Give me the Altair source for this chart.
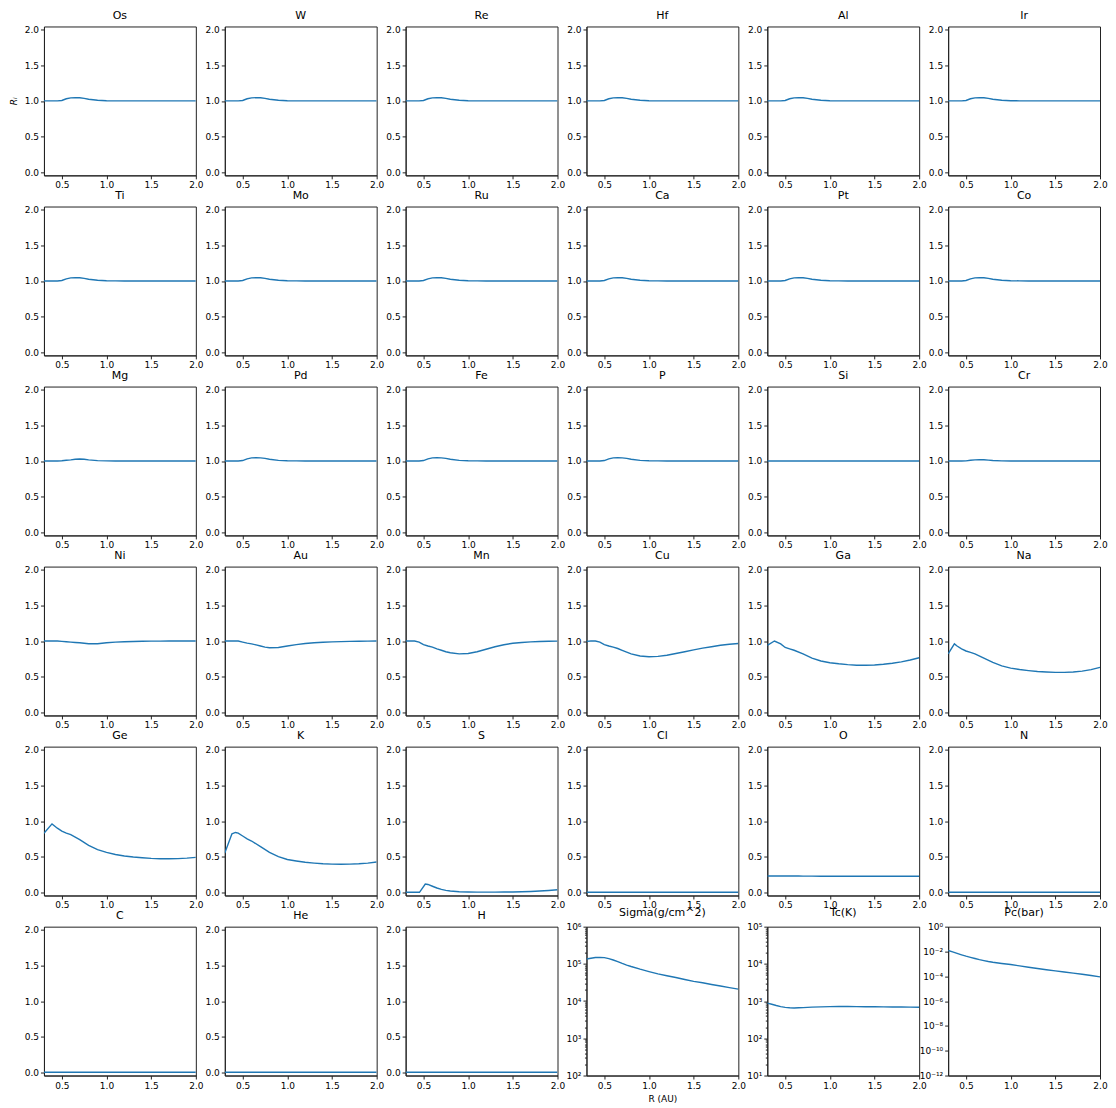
import altair as alt
import pandas as pd

# ---------------- data ----------------
R = [0.30, 0.35, 0.40, 0.45, 0.50, 0.55, 0.60, 0.65, 0.70, 0.75, 0.80, 0.90,
     1.00, 1.10, 1.20, 1.30, 1.40, 1.50, 1.60, 1.70, 1.80, 1.90, 2.00]

BUMP = [1.0, 1.0, 1.0, 1.0, 1.006, 1.03, 1.043, 1.046, 1.044, 1.036, 1.024, 1.009,
        1.003, 1.001, 1.0, 1.0, 1.0, 1.0, 1.0, 1.0, 1.0, 1.0, 1.0]
MG = [1.0, 1.0, 1.0, 1.0, 1.004, 1.01, 1.015, 1.024, 1.028, 1.024, 1.015, 1.005,
      1.001, 1.0, 1.0, 1.0, 1.0, 1.0, 1.0, 1.0, 1.0, 1.0, 1.0]
SI = [1.0, 1.0, 1.0, 1.0, 1.0, 1.0, 1.0, 1.0, 1.0, 1.0, 1.0, 1.0,
      1.0, 1.0, 1.0, 1.0, 1.0, 1.0, 1.0, 1.0, 1.0, 1.0, 1.0]
CR = [1.0, 1.0, 1.0, 1.0, 1.002, 1.01, 1.016, 1.019, 1.017, 1.012, 1.007, 1.002,
      1.0, 1.0, 1.0, 1.0, 1.0, 1.0, 1.0, 1.0, 1.0, 1.0, 1.0]
NI = [1.0, 1.0, 1.0, 1.0, 0.995, 0.99, 0.985, 0.98, 0.975, 0.968, 0.962, 0.962,
      0.975, 0.985, 0.99, 0.994, 0.997, 0.998, 0.999, 1.0, 1.0, 1.0, 1.0]
AU = [1.0, 1.0, 1.0, 1.0, 0.985, 0.97, 0.96, 0.945, 0.93, 0.915, 0.905, 0.91,
      0.93, 0.95, 0.965, 0.975, 0.983, 0.988, 0.992, 0.995, 0.997, 0.999, 1.0]
MN = [1.0, 1.0, 1.0, 0.985, 0.95, 0.93, 0.915, 0.89, 0.87, 0.85, 0.835, 0.82,
      0.825, 0.85, 0.885, 0.92, 0.948, 0.968, 0.98, 0.988, 0.993, 0.996, 0.998]
CU = [0.995, 1.0, 1.0, 0.985, 0.95, 0.93, 0.915, 0.895, 0.87, 0.845, 0.82, 0.79,
      0.78, 0.785, 0.80, 0.825, 0.85, 0.875, 0.90, 0.92, 0.94, 0.955, 0.965]
O = [0.228, 0.228, 0.228, 0.228, 0.228, 0.228, 0.228, 0.228, 0.227, 0.227, 0.227, 0.226,
     0.226, 0.226, 0.225, 0.225, 0.225, 0.225, 0.225, 0.225, 0.225, 0.225, 0.225]
ZERO = [0.0, 0.0, 0.0, 0.0, 0.0, 0.0, 0.0, 0.0, 0.0, 0.0, 0.0, 0.0,
        0.0, 0.0, 0.0, 0.0, 0.0, 0.0, 0.0, 0.0, 0.0, 0.0, 0.0]

GA_R = [0.30, 0.38, 0.45, 0.50, 0.55, 0.60, 0.70, 0.80, 0.90, 1.00, 1.10, 1.20,
        1.30, 1.40, 1.50, 1.60, 1.70, 1.80, 1.90, 2.00]
GA = [0.94, 1.0, 0.96, 0.91, 0.89, 0.87, 0.82, 0.76, 0.72, 0.695, 0.68, 0.668,
      0.66, 0.66, 0.663, 0.673, 0.688, 0.708, 0.733, 0.765]
NA_R = [0.30, 0.37, 0.40, 0.45, 0.50, 0.55, 0.60, 0.70, 0.80, 0.90, 1.00, 1.10,
        1.20, 1.30, 1.40, 1.50, 1.60, 1.70, 1.80, 1.90, 2.00]
NA = [0.82, 0.96, 0.93, 0.89, 0.86, 0.84, 0.82, 0.76, 0.70, 0.65, 0.62, 0.60,
      0.585, 0.572, 0.565, 0.56, 0.56, 0.565, 0.578, 0.598, 0.63]
GE_R = [0.30, 0.39, 0.45, 0.50, 0.55, 0.60, 0.70, 0.80, 0.90, 1.00, 1.10, 1.20,
        1.30, 1.40, 1.50, 1.60, 1.70, 1.80, 1.90, 2.00]
GE = [0.83, 0.96, 0.90, 0.86, 0.83, 0.81, 0.74, 0.66, 0.60, 0.56, 0.53, 0.51,
      0.495, 0.485, 0.476, 0.47, 0.47, 0.472, 0.479, 0.49]
K_R = [0.30, 0.38, 0.42, 0.45, 0.50, 0.55, 0.60, 0.70, 0.80, 0.90, 1.00, 1.10,
       1.20, 1.30, 1.40, 1.50, 1.60, 1.70, 1.80, 1.90, 2.00]
K = [0.55, 0.82, 0.84, 0.83, 0.79, 0.75, 0.72, 0.64, 0.56, 0.50, 0.46, 0.44,
     0.422, 0.41, 0.40, 0.395, 0.393, 0.395, 0.40, 0.41, 0.425]
S_R = [0.30, 0.455, 0.52, 0.55, 0.60, 0.65, 0.70, 0.75, 0.80, 0.90, 1.00, 1.10,
       1.20, 1.30, 1.40, 1.50, 1.60, 1.70, 1.80, 1.90, 2.00]
S = [0.0, 0.0, 0.115, 0.11, 0.085, 0.06, 0.04, 0.027, 0.018, 0.008, 0.004, 0.002,
     0.002, 0.002, 0.003, 0.005, 0.008, 0.012, 0.018, 0.026, 0.036]

SIGMA = [1.35e5, 1.42e5, 1.48e5, 1.50e5, 1.47e5, 1.38e5, 1.27e5, 1.15e5, 1.03e5, 9.3e4, 8.5e4, 7.2e4,
         6.2e4, 5.4e4, 4.8e4, 4.3e4, 3.8e4, 3.4e4, 3.1e4, 2.8e4, 2.55e4, 2.3e4, 2.1e4]
TC = [880, 820, 760, 710, 680, 662, 655, 660, 668, 678, 688, 700,
      710, 715, 715, 712, 708, 705, 700, 697, 693, 690, 685]
PC = [1.2e-2, 9.2e-3, 7.0e-3, 5.4e-3, 4.2e-3, 3.35e-3, 2.7e-3, 2.2e-3, 1.85e-3, 1.57e-3, 1.36e-3, 1.08e-3,
      8.8e-4, 6.9e-4, 5.4e-4, 4.25e-4, 3.4e-4, 2.75e-4, 2.2e-4, 1.8e-4, 1.45e-4, 1.15e-4, 9.0e-5]

PANELS = [
    ("Os", R, BUMP), ("W", R, BUMP), ("Re", R, BUMP), ("Hf", R, BUMP), ("Al", R, BUMP), ("Ir", R, BUMP),
    ("Ti", R, BUMP), ("Mo", R, BUMP), ("Ru", R, BUMP), ("Ca", R, BUMP), ("Pt", R, BUMP), ("Co", R, BUMP),
    ("Mg", R, MG), ("Pd", R, BUMP), ("Fe", R, BUMP), ("P", R, BUMP), ("Si", R, SI), ("Cr", R, CR),
    ("Ni", R, NI), ("Au", R, AU), ("Mn", R, MN), ("Cu", R, CU), ("Ga", GA_R, GA), ("Na", NA_R, NA),
    ("Ge", GE_R, GE), ("K", K_R, K), ("S", S_R, S), ("Cl", R, ZERO), ("O", R, O), ("N", R, ZERO),
    ("C", R, ZERO), ("He", R, ZERO), ("H", R, ZERO),
]
LOG_PANELS = [
    ("Sigma(g/cm^2)", R, SIGMA, [2, 3, 4, 5, 6], True),
    ("Tc(K)", R, TC, [1, 2, 3, 4, 5], True),
    ("Pc(bar)", R, PC, [-12, -10, -8, -6, -4, -2, 0], False),
]

X_TICKS = [0.5, 1.0, 1.5, 2.0]
Y_TICKS = [0.0, 0.5, 1.0, 1.5, 2.0]

# ---------------- chart ----------------
W, H = 152, 149
BLUE = "#1f77b4"
SUP = str.maketrans("-0123456789", "⁻⁰¹²³⁴⁵⁶⁷⁸⁹")


def x_enc(title=None):
    return alt.X("R:Q",
                 scale=alt.Scale(domain=[0.3, 2.0], nice=False, zero=False),
                 axis=alt.Axis(values=X_TICKS, format=".1f", title=title,
                               titleFontSize=9, titleFontWeight="normal", titlePadding=4))


def ratio_panel(name, xs, ys, ytitle=None):
    df = pd.DataFrame({"R": xs, "v": ys})
    yaxis = alt.Axis(values=Y_TICKS, format=".1f", title=ytitle,
                     titleFontSize=9, titleFontStyle="italic", titleFontWeight="normal",
                     titlePadding=6)
    return alt.Chart(df).mark_line(color=BLUE, strokeWidth=1.4, clip=True).encode(
        x=x_enc(),
        y=alt.Y("v:Q", scale=alt.Scale(domain=[-0.045, 2.045], nice=False, zero=False), axis=yaxis),
    ).properties(width=W, height=H, title=name)


def log_panel(name, xs, ys, exps, minor, xtitle=None):
    df = pd.DataFrame({"R": xs, "v": ys})
    decades = [10.0 ** e for e in exps]
    vals = list(decades)
    if minor:
        for e in exps[:-1]:
            for m in range(2, 10):
                vals.append(m * 10.0 ** e)
    parts = []
    for e, d in zip(exps, decades):
        parts.append(f"datum.value == {d!r} ? '10{str(e).translate(SUP)}'")
    label_expr = " : ".join(parts) + " : ''"
    size_test = " || ".join(f"datum.value == {d!r}" for d in decades)
    yaxis = alt.Axis(values=vals, labelExpr=label_expr, title=None,
                     tickSize={"condition": {"test": size_test, "value": 3.5}, "value": 2})
    return alt.Chart(df).mark_line(color=BLUE, strokeWidth=1.4, clip=True).encode(
        x=x_enc(xtitle),
        y=alt.Y("v:Q", scale=alt.Scale(type="log", domain=[decades[0], decades[-1]], nice=False),
                axis=yaxis),
    ).properties(width=W, height=H, title=name)


charts = []
for i, (name, xs, ys) in enumerate(PANELS):
    charts.append(ratio_panel(name, xs, ys, ytitle="Rᵢ" if i == 0 else None))
for j, (name, xs, ys, exps, minor) in enumerate(LOG_PANELS):
    charts.append(log_panel(name, xs, ys, exps, minor, xtitle="R (AU)" if j == 0 else None))

chart = alt.concat(*charts, columns=6, spacing={"row": 31.2, "column": 29}, bounds="flush").properties(
    padding={"left": 0, "top": 0, "right": 0, "bottom": 0}
).configure_view(
    stroke="#222", strokeWidth=1
).configure_axis(
    grid=False, labelFont="DejaVu Sans", labelFontSize=9, labelColor="#000",
    tickColor="#222", domainColor="#222", tickSize=3.5, tickWidth=1, domainWidth=1,
    labelPadding=2, labelFlush=False, labelOverlap=False, titleFont="DejaVu Sans",
    titleColor="#000",
).configure_title(
    font="DejaVu Sans", fontSize=11, fontWeight="normal", color="#000", offset=5,
    anchor="middle",
)

chart.save("out.html", embed_options={"renderer": "svg", "actions": False})
